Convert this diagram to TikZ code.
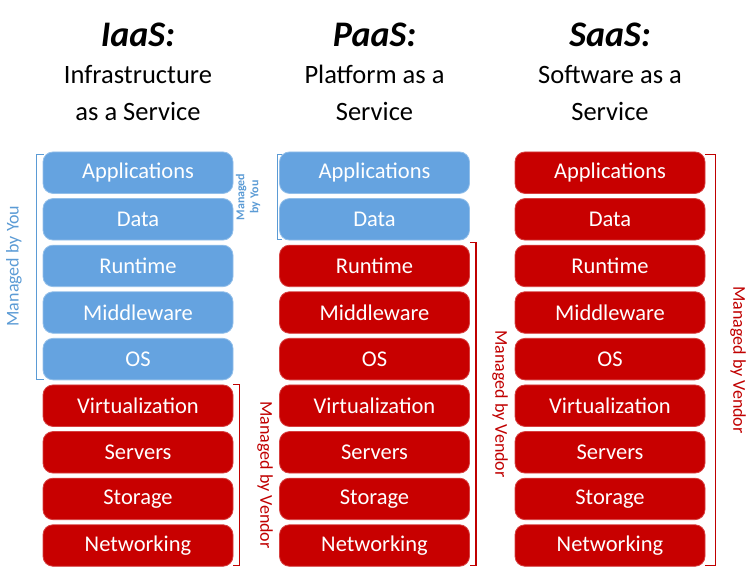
\documentclass[tikz,border=0pt]{standalone}
\definecolor{youblue}{RGB}{101, 163, 224}
\definecolor{youtext}{RGB}{91, 155, 213}
\definecolor{vendred}{RGB}{200, 0, 0}
\definecolor{vendtext}{RGB}{192, 0, 0}
\usepackage{fontspec}
\setmainfont{Carlito}
\usepackage{tikz}
\usetikzlibrary{positioning, calc}

\tikzset{
  layer/.style={rounded corners=10pt, minimum width=190pt, minimum height=41.5pt, inner sep=0pt, text=white, font=\fontsize{22.5}{26}\selectfont},
  youlayer/.style={layer, fill=youblue, draw=youblue!70!white, line width=0.8pt},
  vendlayer/.style={layer, fill=vendred, draw=vendred!75!white, line width=0.8pt},
  titletext/.style={anchor=base, font=\fontsize{36}{42}\selectfont\bfseries\itshape},
  subtext/.style={anchor=base, font=\fontsize{26.5}{31}\selectfont},
  youlabel/.style={text=youtext, font=\fontsize{18}{21}\selectfont},
  vendlabel/.style={text=vendtext, font=\fontsize{18}{21}\selectfont, rotate=-90},
  youbracket/.style={draw=youtext, line width=1.2pt},
  vendbracket/.style={draw=vendtext, line width=1.2pt}
}

\begin{document}
\begin{tikzpicture}[x=1pt, y=-1pt]
  \useasboundingbox (0, 0) rectangle (752, 570);

  % Titles
  \node[titletext] (iaTitle) at (138, 46) {IaaS:};
  \node[subtext] (iaSub1) at (138, 83) {Infrastructure};
  \node[subtext] (iaSub2) at (138, 120) {as a Service};
  \node[titletext] (paTitle) at (374.5, 46) {PaaS:};
  \node[subtext] (paSub1) at (374.5, 83) {Platform as a};
  \node[subtext] (paSub2) at (374.5, 120) {Service};
  \node[titletext] (saTitle) at (610, 46) {SaaS:};
  \node[subtext] (saSub1) at (610, 83) {Software as a};
  \node[subtext] (saSub2) at (610, 120) {Service};

  % IaaS stack
  \node[youlayer] (iaApp) at (138, 172.7) {Applications};
  \node[youlayer] (iaData) at (138, 219.3) {Data};
  \node[youlayer] (iaRun) at (138, 265.9) {Runtime};
  \node[youlayer] (iaMid) at (138, 312.5) {Middleware};
  \node[youlayer] (iaOS) at (138, 359.1) {OS};
  \node[vendlayer] (iaVirt) at (138, 405.7) {Virtualization};
  \node[vendlayer] (iaServ) at (138, 452.3) {Servers};
  \node[vendlayer] (iaStor) at (138, 498.9) {Storage};
  \node[vendlayer] (iaNet) at (138, 545.5) {Networking};

  % PaaS stack
  \node[youlayer] (paApp) at (374.5, 172.7) {Applications};
  \node[youlayer] (paData) at (374.5, 219.3) {Data};
  \node[vendlayer] (paRun) at (374.5, 265.9) {Runtime};
  \node[vendlayer] (paMid) at (374.5, 312.5) {Middleware};
  \node[vendlayer] (paOS) at (374.5, 359.1) {OS};
  \node[vendlayer] (paVirt) at (374.5, 405.7) {Virtualization};
  \node[vendlayer] (paServ) at (374.5, 452.3) {Servers};
  \node[vendlayer] (paStor) at (374.5, 498.9) {Storage};
  \node[vendlayer] (paNet) at (374.5, 545.5) {Networking};

  % SaaS stack
  \node[vendlayer] (saApp) at (610, 172.7) {Applications};
  \node[vendlayer] (saData) at (610, 219.3) {Data};
  \node[vendlayer] (saRun) at (610, 265.9) {Runtime};
  \node[vendlayer] (saMid) at (610, 312.5) {Middleware};
  \node[vendlayer] (saOS) at (610, 359.1) {OS};
  \node[vendlayer] (saVirt) at (610, 405.7) {Virtualization};
  \node[vendlayer] (saServ) at (610, 452.3) {Servers};
  \node[vendlayer] (saStor) at (610, 498.9) {Storage};
  \node[vendlayer] (saNet) at (610, 545.5) {Networking};

  % Brackets
  \draw[youbracket] ($(iaApp.north west)+(1, 3)$) -- ++(-7, 0) |- ($(iaOS.south west)+(1, -1)$);
  \draw[vendbracket] ($(iaVirt.north east)+(0, 0)$) -- ++(6, 0) |- ($(iaNet.south east)+(0, -1)$);
  \draw[youbracket] ($(paApp.north west)+(3, 3)$) -- ++(-5, 0) |- ($(paData.south west)+(3, -1)$);
  \draw[vendbracket] ($(paRun.north east)+(0, -2)$) -- ++(6, 0) |- ($(paNet.south east)+(0, -1)$);
  \draw[vendbracket] ($(saApp.north east)+(0, 3)$) -- ++(10, 0) |- ($(saNet.south east)+(0, -1)$);

  % Labels
  \node[youlabel, rotate=90] (iaYou) at (14, 266) {Managed by You};
  \node[text=youtext, font=\fontsize{12}{14}\selectfont\bfseries, rotate=90, align=center] (paYou) at (248, 197) {Managed\\by You};
  \node[vendlabel] (iaVend) at (265, 475) {Managed by Vendor};
  \node[vendlabel] (paVend) at (500, 404) {Managed by Vendor};
  \node[vendlabel] (saVend) at (738, 360) {Managed by Vendor};
\end{tikzpicture}
\end{document}
